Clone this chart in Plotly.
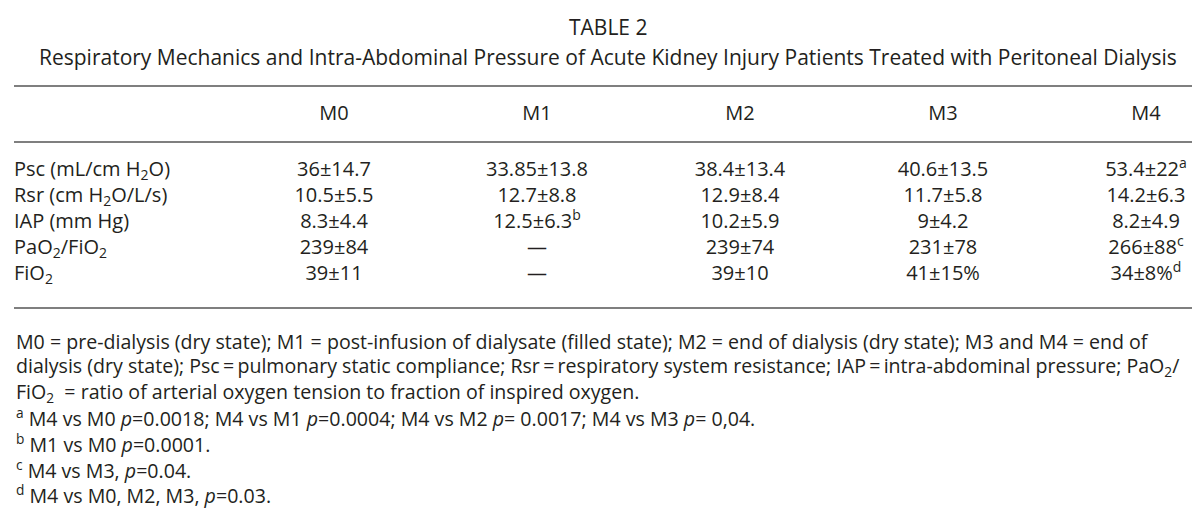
import plotly.graph_objects as go

# ---- data ----
title_lines = ["TABLE 2",
               "Respiratory Mechanics and Intra-Abdominal Pressure of Acute Kidney Injury Patients Treated with Peritoneal Dialysis"]
columns = ["M0", "M1", "M2", "M3", "M4"]
metrics = ["Psc (mL/cm H<sub>2</sub>O)", "Rsr (cm H<sub>2</sub>O/L/s)", "IAP (mm Hg)",
           "PaO<sub>2</sub>/FiO<sub>2</sub>", "FiO<sub>2</sub>"]
M0 = ["36±14.7", "10.5±5.5", "8.3±4.4", "239±84", "39±11"]
M1 = ["33.85±13.8", "12.7±8.8", "12.5±6.3<sup>b</sup>", "—", "—"]
M2 = ["38.4±13.4", "12.9±8.4", "10.2±5.9", "239±74", "39±10"]
M3 = ["40.6±13.5", "11.7±5.8", "9±4.2", "231±78", "41±15%"]
M4 = ["53.4±22<sup>a</sup>", "14.2±6.3", "8.2±4.9", "266±88<sup>c</sup>", "34±8%<sup>d</sup>"]
footnotes = [
    "M0 = pre-dialysis (dry state); M1 = post-infusion of dialysate (filled state); M2 = end of dialysis (dry state); M3 and M4 = end of",
    "dialysis (dry state); Psc\u2009=\u2009pulmonary static compliance; Rsr\u2009=\u2009respiratory system resistance; IAP\u2009=\u2009intra-abdominal pressure; PaO<sub>2</sub>/",
    "FiO<sub>2</sub>  = ratio of arterial oxygen tension to fraction of inspired oxygen.",
    "<sup>a</sup> M4 vs M0 <i>p</i>=0.0018; M4 vs M1 <i>p</i>=0.0004; M4 vs M2 <i>p</i>= 0.0017; M4 vs M3 <i>p</i>= 0,04.",
    "<sup>b</sup> M1 vs M0 <i>p</i>=0.0001.",
    "<sup>c</sup> M4 vs M3, <i>p</i>=0.04.",
    "<sup>d</sup> M4 vs M0, M2, M3, <i>p</i>=0.03.",
]
values = [M0, M1, M2, M3, M4]

# ---- layout constants (pixel-like coordinate system) ----
W, H = 1200, 517
FONT = "Open Sans"
FS_TITLE = 21
FS_TABLE = 20
FS_FOOT = 19.6
COLOR = "#231f20"
LEFT, RIGHT = 6, 1190
COL_X0, COL_STEP = 326, 203
HEADER_Y = 107
ROW_Y0, ROW_STEP = 163, 26
FOOT_Y0, FOOT_STEP = 333, 25.6
RULES_Y = [78, 134, 300]

fig = go.Figure()

# column headers
fig.add_trace(go.Scatter(
    x=[COL_X0 + i * COL_STEP for i in range(len(columns))],
    y=[HEADER_Y] * len(columns),
    text=columns, mode="text", textposition="middle center",
    textfont=dict(family=FONT, size=FS_TABLE, color=COLOR), hoverinfo="skip"))

# row labels
fig.add_trace(go.Scatter(
    x=[LEFT] * len(metrics),
    y=[ROW_Y0 + j * ROW_STEP for j in range(len(metrics))],
    text=metrics, mode="text", textposition="middle right",
    textfont=dict(family=FONT, size=FS_TABLE, color=COLOR), hoverinfo="skip"))

# values
for i, col in enumerate(values):
    fig.add_trace(go.Scatter(
        x=[COL_X0 + i * COL_STEP] * len(col),
        y=[ROW_Y0 + j * ROW_STEP for j in range(len(col))],
        text=col, mode="text", textposition="middle center",
        textfont=dict(family=FONT, size=FS_TABLE, color=COLOR), hoverinfo="skip"))

# title
fig.add_annotation(x=W / 2, y=19, xref="x", yref="y", text=title_lines[0], showarrow=False,
                   xanchor="center", yanchor="middle", font=dict(family=FONT, size=FS_TITLE, color=COLOR))
fig.add_annotation(x=W / 2, y=49, xref="x", yref="y", text=title_lines[1], showarrow=False,
                   xanchor="center", yanchor="middle", font=dict(family=FONT, size=FS_TITLE, color=COLOR))

# footnotes
for k, line in enumerate(footnotes):
    fig.add_annotation(x=LEFT, y=FOOT_Y0 + k * FOOT_STEP, xref="x", yref="y", text=line,
                       showarrow=False, xanchor="left", yanchor="middle",
                       font=dict(family=FONT, size=FS_FOOT, color=COLOR))

# horizontal rules
for ry in RULES_Y:
    fig.add_shape(type="line", x0=LEFT, x1=RIGHT, y0=ry, y1=ry, xref="x", yref="y",
                  line=dict(color="#555555", width=1.6))

fig.update_xaxes(range=[0, W], visible=False, fixedrange=True)
fig.update_yaxes(range=[H, 0], visible=False, fixedrange=True)
fig.update_layout(width=W, height=H, margin=dict(l=0, r=0, t=0, b=0),
                  paper_bgcolor="white", plot_bgcolor="white", showlegend=False)

fig.write_html("out.html")
